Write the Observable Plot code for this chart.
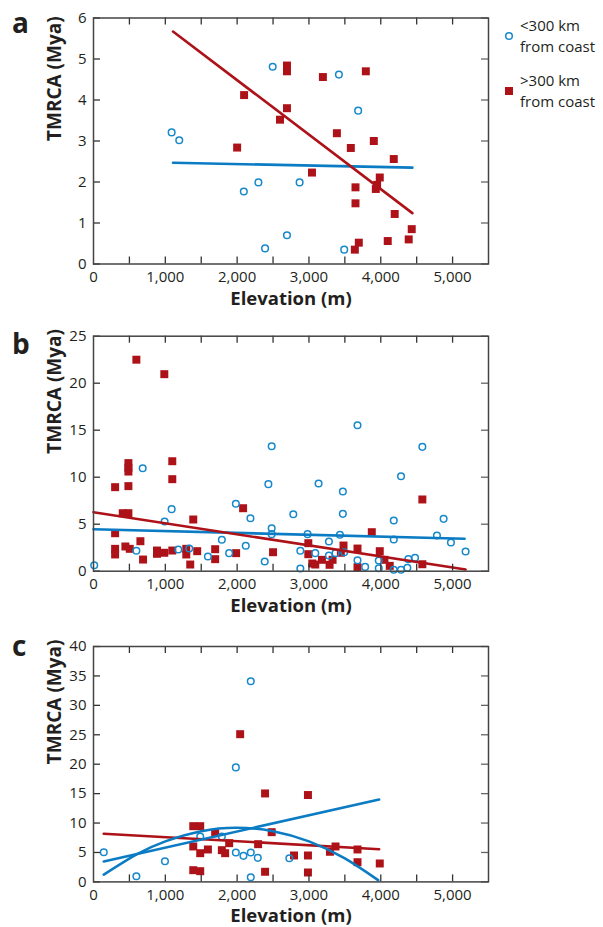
<!DOCTYPE html>
<html><head><meta charset="utf-8">
<script src="https://cdn.jsdelivr.net/npm/d3@7"></script>
<script src="https://cdn.jsdelivr.net/npm/@observablehq/plot@0.6"></script>
<style>
body{margin:0;background:#fff;}
#root{position:relative;width:603px;height:927px;font-family:"Open Sans",sans-serif;color:#231f20;overflow:hidden;}
.panel{position:absolute;left:0;}
.letter{position:absolute;left:12px;font-weight:700;font-size:28px;line-height:1;}
.legend{position:absolute;left:503px;font-size:15px;line-height:21px;}
.legend svg{position:absolute;left:0;}
.legend div{position:absolute;left:17px;top:0;white-space:nowrap;}
</style></head><body><div id="root"></div>
<script>
// ---------- data ----------
const xLabelTicks = [0, 1000, 2000, 3000, 4000, 5000];
const xMinorTicks = [500, 1000, 1500, 2000, 2500, 3000, 3500, 4000, 4500, 5000];

// panel a
const aNearX = [1088, 1194, 2093, 2296, 2870, 2495, 2389, 2694, 3417, 3685, 3491];
const aNearY = [3.21, 3.02, 1.77, 1.99, 1.99, 4.81, 0.38, 0.70, 4.62, 3.74, 0.35];
const aFarX = [2000, 2097, 2597, 2694, 2694, 2694, 3042, 3194, 3389, 3583, 3792, 3903, 3648, 3648, 3694, 3639, 3931, 3949, 3986, 4181, 4194, 4097, 4389, 4431];
const aFarY = [2.84, 4.12, 3.52, 3.80, 4.84, 4.70, 2.23, 4.56, 3.19, 2.83, 4.70, 3.00, 1.87, 1.48, 0.52, 0.35, 1.83, 1.93, 2.11, 2.56, 1.22, 0.56, 0.60, 0.85];
const aNearFitX = [1107, 4440], aNearFitY = [2.47, 2.35];
const aFarFitX = [1107, 4440], aFarFitY = [5.67, 1.24];
const aYTicks = [0, 1, 2, 3, 4, 5, 6];

// panel b
const bNearX = [10, 685, 597, 1088, 990, 1181, 1333, 1593, 1787, 1889, 1982, 2120, 2185, 2384, 2435, 2481, 2481, 2481,
  2782, 2981, 2880, 2880, 3088, 3134, 3278, 3278, 3370, 3431, 3472, 3472, 3491, 3676, 3676, 3782, 3972, 3972, 4181, 4181, 4181, 4282, 4282, 4370, 4384, 4477, 4579, 4782, 4875, 4977, 5181];
const bNearY = [0.64, 10.96, 2.17, 6.6, 5.29, 2.31, 2.41, 1.56, 3.34, 1.92, 7.17, 2.7, 5.64, 1.03, 9.26, 13.3, 4.57, 3.94,
  6.06, 3.94, 2.17, 0.29, 1.92, 9.33, 3.16, 1.67, 1.92, 3.87, 8.48, 6.1, 2.02, 15.53, 1.17, 0.46, 1.14, 0.32, 5.39, 3.37, 0.15, 10.1, 0.15, 0.36, 1.28, 1.43, 13.23, 3.8, 5.57, 3.05, 2.1];
const bFarX = [597, 986, 486, 486, 486, 301, 486, 1097, 1097, 407, 486, 301, 444, 505, 653, 301, 301, 690, 884, 884, 986, 1097, 1389, 1292, 1292, 1347, 1444, 1694, 1694, 1986, 2083, 2500,
  2991, 2991, 3046, 3088, 3181, 3287, 3329, 3444, 3481, 3676, 3676, 3875, 3986, 4051, 4125, 4579, 4579];
const bFarY = [22.5, 20.96, 11.5, 11.0, 10.6, 8.94, 9.05, 11.7, 9.79, 6.17, 6.17, 4.04, 2.63, 2.38, 3.19, 2.38, 1.78, 1.24, 2.2, 1.85, 1.96, 2.2, 5.5, 2.38, 1.78, 0.71, 2.13, 2.34, 1.28, 1.92, 6.7, 2.02,
  2.98, 1.81, 0.82, 0.71, 1.21, 0.68, 1.21, 1.96, 2.73, 2.41, 0.43, 4.15, 2.13, 1.21, 0.57, 7.63, 0.74];
const bNearFitX = [0, 5167], bNearFitY = [4.47, 3.45];
const bFarFitX = [0, 5181], bFarFitY = [6.28, 0.18];
const bYTicks = [0, 5, 10, 15, 20, 25];

// panel c
const cNearX = [143, 597, 995, 1486, 1787, 1982, 2190, 1982, 2088, 2190, 2287, 2190, 2727];
const cNearY = [5.05, 0.97, 3.52, 7.72, 7.72, 19.46, 34.1, 5.0, 4.43, 5.0, 4.09, 0.8, 4.03];
const cFarX = [1389, 1486, 1389, 1486, 1593, 1389, 1486, 1694, 1787, 1833, 1889, 2042, 2292, 2389, 2481, 2389,
  2792, 2986, 2986, 2986, 3292, 3370, 3676, 3676, 3986];
const cFarY = [9.47, 9.47, 6.02, 4.88, 5.51, 1.99, 1.82, 8.28, 5.39, 4.88, 6.58, 25.1, 6.41, 15.03, 8.45, 1.72,
  4.49, 14.76, 4.49, 1.6, 5.12, 6.02, 5.51, 3.35, 3.13];
const cNearFitX = [143, 3977], cNearFitY = [3.47, 14.0];
const cNearCurveX = [143, 600, 1000, 1500, 2000, 2500, 3000, 3500, 3963];
const cNearCurveY = [1.23, 4.67, 6.89, 8.62, 9.2, 8.62, 6.89, 4.0, 0.3];
const cFarFitX = [143, 3977], cFarFitY = [8.18, 5.56];
const cYTicks = [0, 5, 10, 15, 20, 25, 30, 35, 40];

// legend labels
const legendLabels = [["<300 km", "from coast"], [">300 km", "from coast"]];

// ---------- drawing ----------
const BLUE = "#1688cc", BLUE_LINE = "#0b7cc4", RED = "#ae1219", INK = "#231f20";
const zip = (xs, ys) => xs.map((x, i) => ({x, y: ys[i]}));

function panel({top, height, mt, mb, ymax, yTicks, near, far, lines}) {
  const W = 603, ML = 93, MR = 115;
  const fw = W - ML - MR, fh = height - mt - mb;
  const tickLen = 7;
  const marks = [
    Plot.dot(far, {x: "x", y: "y", symbol: "square", r: 4.5, fill: RED}),
    Plot.dot(near, {x: "x", y: "y", r: 3.3, stroke: BLUE, strokeWidth: 1.5, fill: "none"}),
    ...lines.map(l => Plot.line(l.data, {x: "x", y: "y", stroke: l.color, strokeWidth: 2.6, curve: l.curve || "linear"})),
    Plot.tickX(xMinorTicks, {x: d => d, insetTop: fh - tickLen, stroke: "#333", strokeWidth: 1.3}),
    Plot.tickX(xMinorTicks, {x: d => d, insetBottom: fh - tickLen, stroke: "#333", strokeWidth: 1.3}),
    Plot.tickY(yTicks, {y: d => d, insetRight: fw - tickLen, stroke: "#333", strokeWidth: 1.3}),
    Plot.tickY(yTicks, {y: d => d, insetLeft: fw - tickLen, stroke: "#666", strokeWidth: 1.3}),
    Plot.frame({stroke: "#444", strokeWidth: 1.5}),
    Plot.axisX({ticks: xLabelTicks, tickSize: 0, tickPadding: 7, tickFormat: d3.format(","), label: null, fill: INK}),
    Plot.axisY({ticks: yTicks, tickSize: 0, tickPadding: 7, tickFormat: d3.format("d"), label: null, fill: INK}),
    Plot.text(["Elevation (m)"], {frameAnchor: "bottom", dy: 40.5, fontWeight: 700, fontSize: 18.5, fill: INK}),
    Plot.text(["TMRCA (Mya)"], {frameAnchor: "left", dx: -39, rotate: -90, fontWeight: 700, fontSize: 19, fill: INK})
  ];
  const svg = Plot.plot({
    width: W, height,
    marginLeft: ML, marginRight: MR, marginTop: mt, marginBottom: mb,
    x: {domain: [0, 5500], axis: null},
    y: {domain: [0, ymax], axis: null},
    style: {fontFamily: "Open Sans, sans-serif", fontSize: "15px", color: INK, background: "transparent", overflow: "visible"},
    marks
  });
  svg.classList.add("panel");
  svg.style.top = top + "px";
  return svg;
}

const root = document.getElementById("root");
root.appendChild(panel({
  top: 0, height: 320, mt: 17.5, mb: 56.5, ymax: 6, yTicks: aYTicks,
  near: zip(aNearX, aNearY), far: zip(aFarX, aFarY),
  lines: [{data: zip(aNearFitX, aNearFitY), color: BLUE_LINE}, {data: zip(aFarFitX, aFarFitY), color: RED}]
}));
root.appendChild(panel({
  top: 320, height: 300, mt: 15.7, mb: 49.3, ymax: 25, yTicks: bYTicks,
  near: zip(bNearX, bNearY), far: zip(bFarX, bFarY),
  lines: [{data: zip(bNearFitX, bNearFitY), color: BLUE_LINE}, {data: zip(bFarFitX, bFarFitY), color: RED}]
}));
root.appendChild(panel({
  top: 620, height: 307, mt: 26, mb: 45.6, ymax: 40, yTicks: cYTicks,
  near: zip(cNearX, cNearY), far: zip(cFarX, cFarY),
  lines: [{data: zip(cFarFitX, cFarFitY), color: RED}, {data: zip(cNearFitX, cNearFitY), color: BLUE_LINE},
          {data: zip(cNearCurveX, cNearCurveY), color: BLUE_LINE, curve: "natural"}]
}));

// panel letters
[["a", 8], ["b", 329], ["c", 631]].forEach(([t, y]) => {
  const d = document.createElement("div");
  d.className = "letter"; d.textContent = t; d.style.top = y + "px";
  root.appendChild(d);
});

// legend
const esc = s => s.replace(/</g, "&lt;").replace(/>/g, "&gt;");
[{top: 15, shape: "circle"}, {top: 70, shape: "square"}].forEach((item, i) => {
  const g = document.createElement("div");
  g.className = "legend"; g.style.top = item.top + "px";
  const sym = item.shape === "circle"
    ? `<svg width="12" height="12" style="top:15px;left:0"><circle cx="6" cy="6" r="3.3" fill="none" stroke="${BLUE}" stroke-width="1.5"/></svg>`
    : `<svg width="12" height="12" style="top:15px;left:0"><rect x="2" y="2" width="8" height="8" fill="${RED}"/></svg>`;
  g.innerHTML = sym + `<div>${esc(legendLabels[i][0])}<br>${esc(legendLabels[i][1])}</div>`;
  root.appendChild(g);
});
</script></body></html>
